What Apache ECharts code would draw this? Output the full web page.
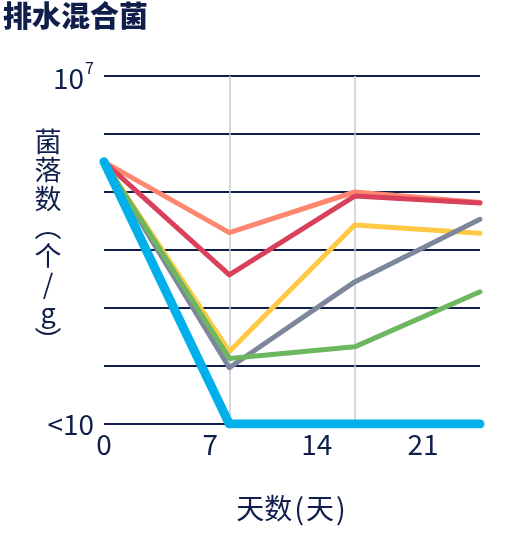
<!DOCTYPE html>
<html><head><meta charset="utf-8">
<script src="https://cdn.jsdelivr.net/npm/echarts@6/dist/echarts.min.js"></script>
<style>html,body{margin:0;padding:0;background:#fff}#c{width:512px;height:540px}</style>
</head><body><div id="c"></div>
<script>
var days = [0, 8.25, 16.5, 24.75];
var xTicks = [0, 7, 14, 21];
var salmon = [5.52, 4.30, 5.00, 4.82];
var red    = [5.52, 3.57, 4.93, 4.81];
var yellow = [5.52, 2.25, 4.43, 4.29];
var gray   = [5.52, 1.97, 3.45, 4.53];
var green  = [5.52, 2.13, 2.33, 3.28];
var blue   = [5.52, 1.00, 1.00, 1.00];
var markDays = [8.25, 16.5];
var NAVY = '#0f1e4a';
var FONT = '"Noto Sans CJK SC", "Noto Sans", sans-serif';

function pairs(v){ return days.map(function(d,i){return [d, v[i]];}); }
function mk(name, vals, color, w, z){
  return {name:name, type:'line', data:pairs(vals), symbol:'none', z:z,
    lineStyle:{color:color, width:w, cap:'round', join:'round'}, animation:false};
}
var series = [
  mk('s1', salmon, '#ff8770', 5, 2),
  mk('s2', red, '#d9405a', 5, 3),
  mk('s3', yellow, '#ffc845', 5, 4),
  mk('s4', gray, '#7e869c', 5, 5),
  mk('s5', green, '#6cb760', 5, 6),
  mk('s6', blue, '#00b0ea', 9, 7)
];
series[0].markLine = {silent:true, symbol:'none', label:{show:false}, animation:false,
  lineStyle:{color:'#c9cbd6', width:1.5, type:'solid'},
  data: markDays.map(function(d){return {xAxis:d};})};
series[0].markLine.z = 1;

var chart = echarts.init(document.getElementById('c'), null, {renderer:'canvas'});
chart.setOption({
  animation:false,
  textStyle:{fontFamily:FONT},
  grid:{left:104, right:32, top:76, bottom:116, containLabel:false},
  xAxis:{type:'value', min:0, max:24.75, interval:7,
    axisLine:{show:false}, axisTick:{show:false}, splitLine:{show:false},
    axisLabel:{show:true, showMaxLabel:false, margin:6, color:NAVY, fontSize:28, fontFamily:FONT,
      formatter:function(v){ return xTicks.indexOf(v) >= 0 ? String(v) : ''; }},
    name:'{a|天数}{p|(}{a|天}{p|)}', nameLocation:'middle', nameGap:70,
    nameTextStyle:{color:NAVY, fontSize:28, fontFamily:FONT,
      rich:{a:{fontSize:28, color:NAVY, fontFamily:FONT},
            p:{fontSize:29, color:NAVY, fontFamily:FONT, padding:[0,2,0,2]}}}
  },
  yAxis:{type:'value', min:1, max:7, interval:1,
    axisLine:{show:false}, axisTick:{show:false},
    splitLine:{show:true, lineStyle:{color:NAVY, width:2}},
    axisLabel:{margin:10, color:NAVY, fontSize:28, fontFamily:FONT,
      formatter:function(v){ if(v===7) return '{b|10}{s|7}'; if(v===1) return '{b|<10}'; return ''; },
      rich:{b:{fontSize:28, color:NAVY, fontFamily:FONT, verticalAlign:'bottom'},
            s:{fontSize:16, color:NAVY, fontFamily:FONT, verticalAlign:'top', padding:[0,0,16,1]}}}
  },
  graphic:[
    {type:'text', left:3, top:1, style:{text:'排水混合菌', fill:NAVY, font:'900 29px '+FONT}},
    {type:'text', x:48, y:127, style:{text:'菌\n落\n数\n︵\n个\n/\ng\n︶', fill:NAVY,
      font:'27px '+FONT, lineHeight:28.5, align:'center'}}
  ],
  series:series
});
</script></body></html>
